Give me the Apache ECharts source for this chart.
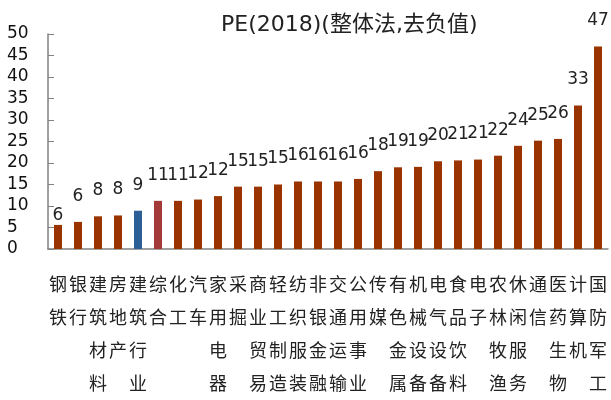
<!DOCTYPE html>
<html>
<head>
<meta charset="utf-8">
<script src="https://cdn.jsdelivr.net/npm/echarts@6/dist/echarts.min.js"></script>
<style>
  html, body { margin: 0; padding: 0; background: #fff; }
  #main { width: 611px; height: 400px; }
</style>
</head>
<body>
<div id="main"></div>
<script>
var industries = ['钢铁', '银行', '建筑材料', '房地产', '建筑行业', '综合', '化工', '汽车', '家用电器', '采掘',
  '商业贸易', '轻工制造', '纺织服装', '非银金融', '交通运输', '公用事业', '传媒', '有色金属', '机械设备', '电气设备',
  '食品饮料', '电子', '农林牧渔', '休闲服务', '通信', '医药生物', '计算机', '国防军工'];
var pe2018 = [5.6, 6.3, 7.6, 7.8, 8.9, 11.2, 11.2, 11.5, 12.3, 14.5,
  14.5, 15.0, 15.7, 15.7, 15.7, 16.3, 18.1, 19.0, 19.1, 20.4,
  20.6, 20.8, 21.7, 24.0, 25.2, 25.6, 33.4, 47.1];
var yTicks = [0, 5, 10, 15, 20, 25, 30, 35, 40, 45, 50];

var chart = echarts.init(document.getElementById('main'));

// 建筑行业蓝色, 综合红色, 其余棕色
var barData = pe2018.map(function (v, i) {
  var item = { value: v };
  if (i === 4) item.itemStyle = { color: '#2b5f96' };
  if (i === 5) item.itemStyle = { color: '#a23a3a' };
  if (i === 0) item.label = { distance: 1 };
  return item;
});

var option = {
  animation: false,
  title: {
    text: 'PE(2018)(整体法,去负值)',
    left: 216,
    top: 9,
    textStyle: {
      fontFamily: 'DejaVu Sans, Noto Sans CJK SC',
      fontSize: 22,
      fontWeight: 'normal',
      color: '#222'
    }
  },
  grid: {
    left: 48,
    right: 3,
    top: 34,
    bottom: 140
  },
  xAxis: {
    type: 'category',
    data: industries,
    axisLine: { lineStyle: { color: '#808080', width: 1.5 } },
    axisTick: { inside: true, length: 5, lineStyle: { color: '#808080' } },
    axisLabel: {
      interval: 0,
      margin: 19,
      fontFamily: 'Noto Sans CJK SC',
      fontSize: 18,
      lineHeight: 33,
      color: '#222',
      formatter: function (s) { return s.split('').join('\n'); }
    }
  },
  yAxis: {
    type: 'value',
    min: yTicks[0],
    max: yTicks[yTicks.length - 1],
    interval: 5,
    splitLine: { show: false },
    axisLine: { show: true, lineStyle: { color: '#808080', width: 1.5 } },
    axisTick: { show: true, inside: true, length: 6, lineStyle: { color: '#808080' } },
    axisLabel: {
      align: 'left',
      margin: 41,
      fontFamily: 'DejaVu Sans',
      fontSize: 17,
      color: '#111'
    }
  },
  series: [{
    type: 'bar',
    data: barData,
    barWidth: 8,
    itemStyle: { color: '#993300' },
    label: {
      show: true,
      position: 'top',
      distance: 17,
      fontFamily: 'DejaVu Sans',
      fontSize: 17,
      color: '#222',
      formatter: function (p) { return Math.round(p.value); }
    }
  }]
};

chart.setOption(option);
</script>
</body>
</html>
